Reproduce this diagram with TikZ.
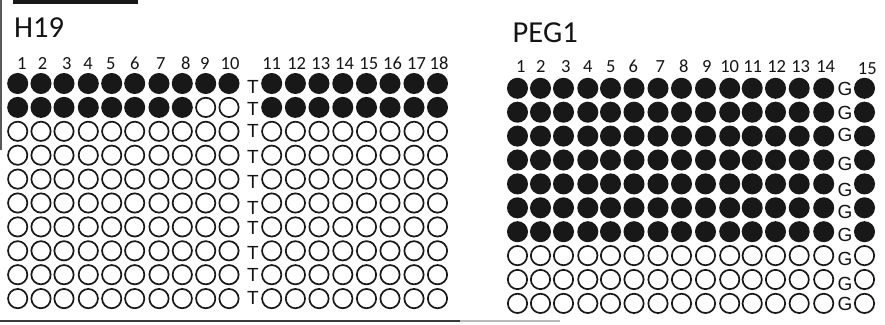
\documentclass[tikz,border=0pt]{standalone}
\usepackage{fontspec}
\setmainfont{Carlito}
\newfontfamily\arialf{Liberation Sans}
\definecolor{ink}{HTML}{181818}
\definecolor{txt}{HTML}{141414}
\begin{document}
\begin{tikzpicture}[x=1pt,y=-1pt,
  well/.style={circle, draw=ink, line width=1.7pt, minimum size=19.3pt, inner sep=0pt},
  wellon/.style={well, fill=ink},
  welloff/.style={well, fill=white},
  collabel/.style={font=\fontsize{18.5}{18.5}\selectfont, text=txt, inner sep=0pt, anchor=base},
  titlelabel/.style={font=\fontsize{30.5}{30.5}\selectfont, text=txt, inner sep=0pt, anchor=base west},
  marker/.style={font=\arialf\fontsize{19}{19}\selectfont, text=txt, inner sep=0pt}]
\useasboundingbox (0,0) rectangle (885,324);

% frame pieces
\fill[ink] (13,0) rectangle (138,3.6);
\draw[gray!70!black, line width=1.4pt] (1,0) -- (1,150);
\draw[ink!85, line width=2pt] (0,321) -- (460,321);
\draw[gray!55, line width=2pt] (460,321) -- (560,321);

% titles
\node[titlelabel] (h19title) at (14,37) {H19};
\node[titlelabel] (peg1title) at (512.5,42) {PEG1};

% H19 column labels
\foreach \lx [count=\c] in {21.7,42.5,66.7,88,110.8,134.7,160.8,185.8,204.7,230,271.7,296.7,320.8,344.5,368.8,392.5,416.5,439}
  \node[collabel] (hlab\c) at (\lx,69) {\c};

% H19 wells
\foreach \cx [count=\c] in {17.7,41,64,88.3,111.7,134.7,159,182.3,205.7,229,271.7,295.4,319,342.8,366.5,390,414,437.5}{
  \foreach \r in {1,...,10}{
    \pgfmathsetmacro{\cy}{83.5+23.9*(\r-1)}
    \pgfmathtruncatemacro{\f}{(\r==1) || (\r==2 && (\c<9 || \c>10))}
    \ifnum\f=1
      \node[wellon] (h-\r-\c) at (\cx,\cy) {};
    \else
      \node[welloff] (h-\r-\c) at (\cx,\cy) {};
    \fi
  }
}
% T markers
\foreach \o [count=\r] in {3,2,0,2,3,5,1,2.5,0.6,-1}{
  \pgfmathsetmacro{\ty}{83.5+23.9*(\r-1)+\o}
  \node[marker] (t\r) at (253,\ty) {T};
}

% PEG1 column labels
\foreach \lx/\ly [count=\c] in {520.7/72.5,540.8/72.5,565.7/72.5,587.7/72.5,610.7/72.5,633.3/72.5,660.3/72.5,683.7/72.5,706.7/72.5,729.7/72.5,752.7/72.5,776.7/72.5,800.7/72.5,825.7/72.5,867.3/74}
  \node[collabel] (plab\c) at (\lx,\ly) {\c};

% PEG1 wells
\foreach \cx [count=\c] in {517.5,540.5,563.5,587.8,610.5,634,658,681.5,705.5,729.7,752.2,775.5,799.2,823.7,864.5}{
  \foreach \r in {1,...,10}{
    \pgfmathsetmacro{\cy}{88.3+23.9*(\r-1)}
    \ifnum\r<8
      \node[wellon] (p-\r-\c) at (\cx,\cy) {};
    \else
      \node[welloff] (p-\r-\c) at (\cx,\cy) {};
    \fi
  }
}
% G markers
\foreach \o [count=\r] in {0.7,0.6,-1,4,6,4,3,3,4,1}{
  \pgfmathsetmacro{\gy}{88.3+23.9*(\r-1)+\o}
  \node[marker] (g\r) at (845,\gy) {G};
}
\end{tikzpicture}
\end{document}
